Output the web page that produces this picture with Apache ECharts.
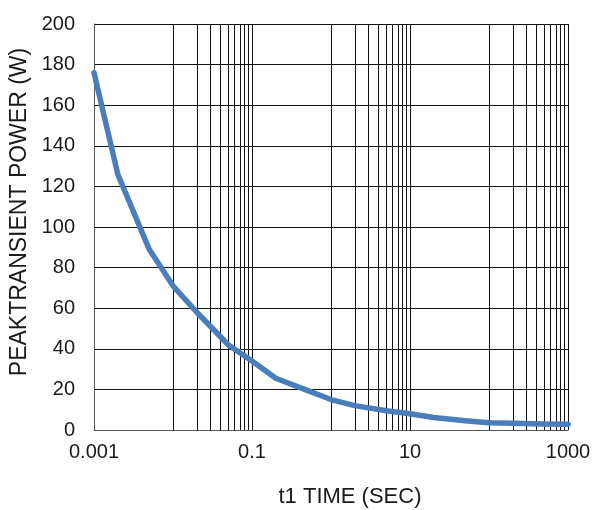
<!DOCTYPE html>
<html>
<head>
<meta charset="utf-8">
<script src="https://cdn.jsdelivr.net/npm/echarts@6/dist/echarts.min.js"></script>
<style>
html,body{margin:0;padding:0;background:#fff;}
#chart{width:595px;height:510px;}
</style>
</head>
<body>
<div id="chart"></div>
<script>
// Data
const timeValues = [0.001, 0.002, 0.005, 0.01, 0.02, 0.05, 0.1, 0.2, 0.5, 1, 2, 5, 10, 20, 50, 100, 200, 500, 1000];
const powerValues = [176, 126, 89, 71, 58, 42, 34, 25.5, 19.5, 15, 12, 9.5, 8, 6.2, 4.6, 3.6, 3.3, 3.0, 2.8];
const xTickLabels = ['0.001', '0.1', '10', '1000'];
const xLabelValues = [0.001, 0.1, 10, 1000];
const yMin = 0, yMax = 200, yStep = 20;
const verticalGridValues = [
  0.01, 0.02, 0.03, 0.04, 0.05, 0.06, 0.07, 0.08, 0.09, 0.1,
  1, 2, 3, 4, 5, 6, 7, 8, 9, 10,
  100, 200, 300, 400, 500, 600, 700, 800, 900, 1000
];
const xTitle = 't1 TIME (SEC)';
const yTitle = 'PEAKTRANSIENT POWER (W)';

const chart = echarts.init(document.getElementById('chart'), null, {renderer: 'canvas'});
const font = 'Liberation Sans, Arial, sans-serif';

const option = {
  animation: false,
  backgroundColor: '#fff',
  grid: {left: 94, right: 27, top: 24, bottom: 80, containLabel: false},
  xAxis: {
    type: 'log',
    logBase: 10,
    min: 0.001,
    max: 1000,
    axisLine: {show: true, onZero: false, lineStyle: {color: '#555', width: 1}},
    axisTick: {show: false},
    splitLine: {show: false},
    axisLabel: {
      show: true,
      margin: 12,
      fontSize: 20,
      fontFamily: font,
      color: '#1a1a1a',
      showMinLabel: true,
      showMaxLabel: true,
      formatter: function (v) {
        for (let i = 0; i < xLabelValues.length; i++) {
          if (Math.abs(Math.log10(v) - Math.log10(xLabelValues[i])) < 1e-6) return xTickLabels[i];
        }
        return '';
      }
    }
  },
  yAxis: {
    type: 'value',
    min: yMin,
    max: yMax,
    interval: yStep,
    axisLine: {show: true, lineStyle: {color: '#555', width: 1}},
    axisTick: {show: false},
    splitLine: {show: true, lineStyle: {color: '#111', width: 1}},
    axisLabel: {margin: 19, fontSize: 20, fontFamily: font, color: '#1a1a1a'}
  },
  graphic: [
    {
      type: 'text',
      x: 20, y: 212,
      rotation: Math.PI / 2,
      style: {text: yTitle, fontSize: 23, fontFamily: font, fill: '#1a1a1a', align: 'center', verticalAlign: 'middle'}
    },
    {
      type: 'text',
      x: 350, y: 497,
      style: {text: xTitle, fontSize: 22, fontFamily: font, fill: '#1a1a1a', align: 'center', verticalAlign: 'middle'}
    }
  ],
  series: [
    {
      type: 'line',
      z: 1,
      silent: true,
      data: timeValues.map((t, i) => [t, powerValues[i]]),
      showSymbol: false,
      lineStyle: {opacity: 0},
      markLine: {
        silent: true,
        symbol: ['none', 'none'],
        label: {show: false},
        lineStyle: {color: '#111', width: 1, type: 'solid'},
        emphasis: {disabled: true},
        data: verticalGridValues.map(v => ({xAxis: v}))
      }
    },
    {
      type: 'line',
      z: 5,
      data: timeValues.map((t, i) => [t, powerValues[i]]),
      showSymbol: false,
      smooth: false,
      lineStyle: {color: '#4A7EBB', width: 5.5, cap: 'round', join: 'round'}
    }
  ]
};
chart.setOption(option);
</script>
</body>
</html>
